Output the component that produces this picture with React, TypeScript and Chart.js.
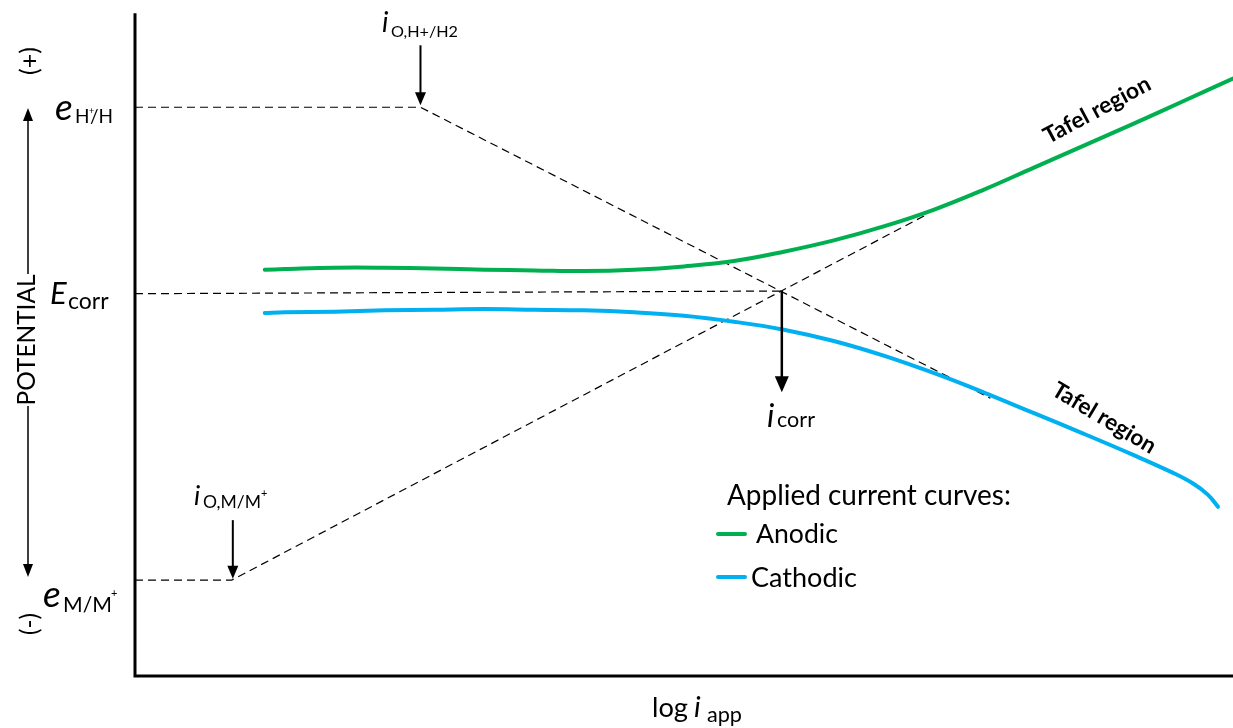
import React, { useEffect, useRef } from "react";
import { Chart, registerables } from "chart.js";
Chart.register(...registerables);

// ---- data (abstract units: x = log i_app 0..110, y = potential 0..100) ----
const anodicX = [13, 15, 20, 25, 30, 35, 40, 45, 50, 55, 60, 65, 70, 75, 80, 85, 90, 95, 100, 105, 110];
const anodicY = [61.0, 61.1, 61.3, 61.3, 61.2, 61.0, 60.9, 60.8, 61.0, 61.5, 62.3, 63.7, 65.4, 67.5, 70.0, 73.0, 76.3, 79.6, 82.9, 86.3, 89.7];
const cathodicX = [13, 15, 20, 25, 30, 35, 40, 45, 50, 55, 60, 65, 70, 75, 80, 85, 90, 95, 100, 104, 106, 107.5, 108.5];
const cathodicY = [54.5, 54.6, 54.7, 54.9, 55.0, 55.1, 55.0, 54.9, 54.6, 54.1, 53.2, 52.0, 50.3, 48.1, 45.5, 42.6, 39.5, 36.4, 33.2, 30.5, 28.9, 27.2, 25.4];

// dashed construction lines
const hydrogenX = [0, 28.6, 85.7];
const hydrogenY = [85.4, 85.4, 41.7];
const corrX = [0, 64.6];
const corrY = [57.4, 57.8];
const metalX = [0, 9.7, 79.2];
const metalY = [14.4, 14.4, 69.2];

// vertical arrows: i_O,H+/H2 , i_corr , i_O,M/M+
const arrowX = [28.6, 64.8, 9.8];
const arrowFromY = [94.7, 57.8, 23.4];
const arrowToY = [85.7, 42.6, 14.6];

const X_MIN = 0, X_MAX = 110, Y_MIN = 0, Y_MAX = 100, Y_AXIS_TOP = 99.5;

const GREEN = "#00B050";
const CYAN = "#00B0F0";
const FONT = "Lato";

const pts = (xs: number[], ys: number[]) => xs.map((x, i) => ({ x, y: ys[i] }));

function setFont(ctx: CanvasRenderingContext2D, size: number, italic = false, bold = false) {
  ctx.font = `${italic ? "italic " : ""}${bold ? "bold " : ""}${size}px ${FONT}`;
}
function fitSize(ctx: CanvasRenderingContext2D, s: string, width: number, italic = false, bold = false) {
  setFont(ctx, 100, italic, bold);
  const w = ctx.measureText(s).width;
  return (100 * width) / w;
}
function text(ctx: CanvasRenderingContext2D, s: string, x: number, y: number, size: number, italic = false, bold = false) {
  setFont(ctx, size, italic, bold);
  ctx.fillText(s, x, y);
}
function textFit(ctx: CanvasRenderingContext2D, s: string, x: number, y: number, width: number, italic = false, bold = false) {
  const size = fitSize(ctx, s, width, italic, bold);
  text(ctx, s, x, y, size, italic, bold);
}
function head(ctx: CanvasRenderingContext2D, x: number, y: number, w: number, h: number, dir: 1 | -1) {
  ctx.beginPath();
  ctx.moveTo(x, y);
  ctx.lineTo(x - w / 2, y - dir * h);
  ctx.lineTo(x + w / 2, y - dir * h);
  ctx.closePath();
  ctx.fill();
}

const decoPlugin = {
  id: "deco",
  afterDatasetsDraw(chart: any) {
    const ctx: CanvasRenderingContext2D = chart.ctx;
    const xs = chart.scales.x;
    const ys = chart.scales.y;
    const ca = chart.chartArea;
    ctx.save();
    ctx.fillStyle = "#000";
    ctx.strokeStyle = "#000";
    ctx.textBaseline = "alphabetic";
    ctx.textAlign = "left";

    // axes
    ctx.lineWidth = 3;
    ctx.lineCap = "butt";
    ctx.beginPath();
    ctx.moveTo(ca.left, ys.getPixelForValue(Y_AXIS_TOP));
    ctx.lineTo(ca.left, ca.bottom + 1.5);
    ctx.moveTo(ca.left - 1.5, ca.bottom);
    ctx.lineTo(ca.right, ca.bottom);
    ctx.stroke();

    // arrows
    arrowX.forEach((ax, i) => {
      const px = xs.getPixelForValue(ax);
      const y0 = ys.getPixelForValue(arrowFromY[i]);
      const y1 = ys.getPixelForValue(arrowToY[i]);
      const big = i === 1;
      const hh = big ? 16 : 13;
      ctx.lineWidth = big ? 2.5 : 2;
      ctx.beginPath();
      ctx.moveTo(px, y0);
      ctx.lineTo(px, y1 - hh + 1);
      ctx.stroke();
      head(ctx, px, y1, big ? 14 : 11, hh, 1);
    });

    // left POTENTIAL axis
    ctx.lineWidth = 1.5;
    ctx.beginPath();
    ctx.moveTo(28, 118);
    ctx.lineTo(28, 274);
    ctx.moveTo(28, 406);
    ctx.lineTo(28, 566);
    ctx.stroke();
    head(ctx, 28, 108, 10, 13, -1);
    head(ctx, 28, 577, 10, 13, 1);

    const rot = (s: string, cx: number, cy: number, size: number, width?: number) => {
      ctx.save();
      ctx.translate(cx, cy);
      ctx.rotate(-Math.PI / 2);
      ctx.textAlign = "center";
      ctx.textBaseline = "middle";
      if (width) setFont(ctx, fitSize(ctx, s, width));
      else setFont(ctx, size);
      ctx.fillText(s, 0, 0);
      ctx.restore();
    };
    rot("POTENTIAL", 27, 340, 24, 131);
    rot("(+)", 30, 61, 0, 28);
    rot("(-)", 30, 624, 0, 22);

    // level labels
    text(ctx, "e", 55, 120, 37, true);
    text(ctx, "H", 75, 123, 19);
    text(ctx, "+", 89, 114, 9);
    text(ctx, "/H", 90, 123, 19);

    text(ctx, "E", 50, 304, 31, true);
    text(ctx, "corr", 68, 309, 23);

    text(ctx, "e", 43, 607, 37, true);
    textFit(ctx, "M/M", 63, 612, 49);
    text(ctx, "+", 111, 597, 11);

    // current labels
    text(ctx, "i", 382, 32, 28, true);
    textFit(ctx, "O,H+/H2", 391, 37, 67);

    text(ctx, "i", 194, 505, 27, true);
    textFit(ctx, "O,M/M", 203, 508, 58);
    text(ctx, "+", 261, 497, 11);

    text(ctx, "i", 767, 427, 32, true);
    textFit(ctx, "corr", 777, 427, 38);

    // x axis title
    textFit(ctx, "log", 652, 717, 36);
    text(ctx, "i", 694, 717, 29, true);
    textFit(ctx, "app", 707, 722, 35);

    // Tafel region labels
    const tafel = (cx: number, cy: number, ang: number, w: number) => {
      ctx.save();
      ctx.translate(cx, cy);
      ctx.rotate((ang * Math.PI) / 180);
      ctx.textAlign = "center";
      ctx.textBaseline = "middle";
      setFont(ctx, fitSize(ctx, "Tafel region", w, false, true), false, true);
      ctx.fillText("Tafel region", 0, 0);
      ctx.restore();
    };
    tafel(1097, 110, -28, 118);
    tafel(1104, 418, 31, 117);

    // legend
    ctx.lineCap = "round";
    ctx.lineWidth = 4;
    ctx.strokeStyle = GREEN;
    ctx.beginPath();
    ctx.moveTo(718, 534);
    ctx.lineTo(745, 534);
    ctx.stroke();
    ctx.strokeStyle = CYAN;
    ctx.beginPath();
    ctx.moveTo(718, 577);
    ctx.lineTo(745, 577);
    ctx.stroke();
    textFit(ctx, "Applied current curves:", 727, 505, 284);
    textFit(ctx, "Anodic", 756, 543, 82);
    textFit(ctx, "Cathodic", 751, 587, 106);

    ctx.restore();
  },
};

export default function App() {
  const ref = useRef<HTMLCanvasElement>(null);
  useEffect(() => {
    if (!ref.current) return;
    const dashed = (data: any) => ({
      data,
      borderColor: "#000",
      borderWidth: 1.2,
      borderDash: [8, 5],
      pointRadius: 0,
      tension: 0,
      fill: false,
      clip: false as any,
    });
    const curve = (label: string, data: any, color: string) => ({
      label,
      data,
      borderColor: color,
      borderWidth: 4,
      pointRadius: 0,
      tension: 0.4,
      fill: false,
      borderCapStyle: "round",
      clip: false as any,
    });
    const chart = new Chart(ref.current, {
      type: "line",
      data: {
        datasets: [
          curve("Anodic", pts(anodicX, anodicY), GREEN),
          curve("Cathodic", pts(cathodicX, cathodicY), CYAN),
          { label: "H", ...dashed(pts(hydrogenX, hydrogenY)) },
          { label: "Ecorr", ...dashed(pts(corrX, corrY)) },
          { label: "M", ...dashed(pts(metalX, metalY)) },
        ] as any,
      },
      options: {
        responsive: false,
        animation: false,
        devicePixelRatio: 1,
        layout: { padding: { left: 135, right: 0, top: 10, bottom: 52 } },
        scales: {
          x: { type: "linear", min: X_MIN, max: X_MAX, display: false },
          y: { type: "linear", min: Y_MIN, max: Y_MAX, display: false },
        },
        plugins: { legend: { display: false }, tooltip: { enabled: false } },
        events: [],
      },
      plugins: [decoPlugin],
    });
    return () => chart.destroy();
  }, []);
  return (
    <div style={{ position: "absolute", left: 0, top: 0, width: 1233, height: 728, background: "#fff" }}>
      <canvas ref={ref} width={1233} height={728} style={{ display: "block" }} />
    </div>
  );
}
